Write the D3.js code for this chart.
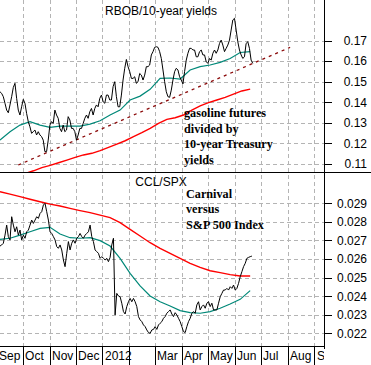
<!DOCTYPE html>
<html>
<head>
<meta charset="utf-8">
<script src="https://cdn.jsdelivr.net/npm/d3@7"></script>
<style>
  body { margin: 0; background: #fff; }
  svg { display: block; }
  .tick text { font-family: "Liberation Sans", Arial, sans-serif; font-size: 12px; fill: #000; }
  .note { font-family: "Liberation Serif", "Times New Roman", serif; font-weight: bold; font-size: 12.2px; fill: #000; }
  .title { font-family: "Liberation Sans", Arial, sans-serif; font-size: 12px; fill: #000; }
</style>
</head>
<body>
<div id="chart"></div>
<script>
// RBOB / 10-year yield ratio, evenly spaced Sep 5 2011 -> Jun 22 2012
const rbobRatio = [
  0.1451, 0.1443, 0.1427, 0.1395, 0.1362, 0.1349, 0.1387, 0.1427, 0.1472, 0.1492,
  0.1419, 0.1362, 0.1338, 0.1378, 0.1414, 0.1395, 0.1346, 0.1306, 0.1281, 0.1249,
  0.1257, 0.1265, 0.1241, 0.1257, 0.1241, 0.1233, 0.1216, 0.1160, 0.1160, 0.1216,
  0.1289, 0.1306, 0.1297, 0.1362, 0.1338, 0.1322, 0.1273, 0.1257, 0.1289, 0.1257,
  0.1265, 0.1330, 0.1314, 0.1273, 0.1273, 0.1257, 0.1216, 0.1241, 0.1273, 0.1273,
  0.1297, 0.1322, 0.1338, 0.1322, 0.1354, 0.1370, 0.1338, 0.1370, 0.1387, 0.1378,
  0.1419, 0.1435, 0.1403, 0.1395, 0.1435, 0.1435, 0.1411, 0.1411, 0.1476, 0.1500,
  0.1427, 0.1378, 0.1378, 0.1435, 0.1508, 0.1565, 0.1608, 0.1573, 0.1549, 0.1516,
  0.1516, 0.1524, 0.1492, 0.1500, 0.1540, 0.1532, 0.1508, 0.1532, 0.1573, 0.1573,
  0.1581, 0.1630, 0.1646, 0.1667, 0.1670, 0.1667, 0.1646, 0.1613, 0.1557, 0.1500,
  0.1451, 0.1427, 0.1424, 0.1459, 0.1508, 0.1549, 0.1565, 0.1557, 0.1524, 0.1508,
  0.1489, 0.1549, 0.1605, 0.1638, 0.1662, 0.1662, 0.1654, 0.1654, 0.1621, 0.1621,
  0.1646, 0.1654, 0.1630, 0.1630, 0.1597, 0.1589, 0.1613, 0.1605, 0.1638, 0.1654,
  0.1638, 0.1654, 0.1686, 0.1702, 0.1678, 0.1646, 0.1662, 0.1678, 0.1702, 0.1751,
  0.1800, 0.1808, 0.1751, 0.1694, 0.1654, 0.1630, 0.1613, 0.1621, 0.1686, 0.1694,
  0.1662, 0.1605, 0.1589
]
// 50-day average (green), Sep 5 2011 -> Jun 19 2012
const rbobMA50 = [
  0.1216, 0.1257, 0.1289, 0.1306, 0.1289, 0.1278, 0.1284, 0.1284, 0.1284, 0.1294,
  0.1310, 0.1338, 0.1362, 0.1411, 0.1430, 0.1463, 0.1516, 0.1518, 0.1513, 0.1557,
  0.1573, 0.1581, 0.1594, 0.1613, 0.1642, 0.1646
]
// 200-day average (red), Oct 4 2011 -> Jun 19 2012
const rbobMA200 = [
  0.1054, 0.1067, 0.1082, 0.1093, 0.1106, 0.1119, 0.1132, 0.1144, 0.1152, 0.1165,
  0.1181, 0.1197, 0.1213, 0.1233, 0.1252, 0.1273, 0.1297, 0.1317, 0.1325, 0.1338,
  0.1362, 0.1382, 0.1398, 0.1411, 0.1424, 0.1440, 0.1455, 0.1464
]
// hand drawn trend line (dashed)
const rbobTrendDates = ["2011-09-26", "2012-08-04"]
const rbobTrendValues = [0.1095, 0.1667]

// CCL / SPX ratio, Sep 5 2011 -> Jun 21 2012
const cclRatio = [
  0.02670, 0.02676, 0.02685, 0.02729, 0.02783, 0.02721, 0.02703, 0.02828, 0.02783, 0.02747,
  0.02774, 0.02729, 0.02756, 0.02703, 0.02729, 0.02712, 0.02747, 0.02756, 0.02783, 0.02810,
  0.02792, 0.02810, 0.02828, 0.02819, 0.02846, 0.02855, 0.02891, 0.02900, 0.02855, 0.02810,
  0.02747, 0.02738, 0.02721, 0.02703, 0.02667, 0.02658, 0.02676, 0.02649, 0.02595, 0.02559,
  0.02631, 0.02694, 0.02649, 0.02685, 0.02703, 0.02685, 0.02712, 0.02721, 0.02738, 0.02721,
  0.02712, 0.02729, 0.02738, 0.02747, 0.02783, 0.02721, 0.02694, 0.02649, 0.02640, 0.02631,
  0.02604, 0.02613, 0.02604, 0.02595, 0.02604, 0.02586, 0.02609, 0.02676, 0.02712, 0.02299,
  0.02415, 0.02401, 0.02397, 0.02362, 0.02317, 0.02304, 0.02344, 0.02370, 0.02388, 0.02370,
  0.02388, 0.02370, 0.02344, 0.02290, 0.02272, 0.02263, 0.02245, 0.02236, 0.02218, 0.02204,
  0.02200, 0.02218, 0.02221, 0.02236, 0.02221, 0.02245, 0.02254, 0.02263, 0.02281, 0.02290,
  0.02308, 0.02317, 0.02326, 0.02304, 0.02290, 0.02311, 0.02299, 0.02281, 0.02263, 0.02236,
  0.02209, 0.02204, 0.02236, 0.02263, 0.02281, 0.02308, 0.02317, 0.02308, 0.02353, 0.02370,
  0.02326, 0.02344, 0.02353, 0.02335, 0.02362, 0.02370, 0.02344, 0.02362, 0.02326, 0.02326,
  0.02326, 0.02362, 0.02397, 0.02415, 0.02433, 0.02433, 0.02442, 0.02433, 0.02451, 0.02442,
  0.02460, 0.02433, 0.02442, 0.02469, 0.02505, 0.02532, 0.02559, 0.02577, 0.02604, 0.02609,
  0.02613, 0.02616
]
const cclMA50 = [
  0.02706, 0.02712, 0.02729, 0.02747, 0.02765, 0.02771, 0.02735, 0.02715, 0.02712, 0.02715,
  0.02699, 0.02670, 0.02604, 0.02523, 0.02455, 0.02401, 0.02370, 0.02347, 0.02322, 0.02311,
  0.02308, 0.02317, 0.02335, 0.02358, 0.02383, 0.02430
]
const cclMA200 = [
  0.02963, 0.02950, 0.02936, 0.02922, 0.02909, 0.02896, 0.02886, 0.02873, 0.02861, 0.02850,
  0.02837, 0.02823, 0.02796, 0.02760, 0.02724, 0.02688, 0.02658, 0.02631, 0.02604, 0.02577,
  0.02555, 0.02537, 0.02527, 0.02516, 0.02509, 0.02509
]

const topTicks = [0.11, 0.12, 0.13, 0.14, 0.15, 0.16, 0.17]
const botTicks = [0.022, 0.023, 0.024, 0.025, 0.026, 0.027, 0.028, 0.029]
const monthLabels = ["Sep", "Oct", "Nov", "Dec", "2012", "", "Mar", "Apr", "May", "Jun", "Jul", "Aug", "Sep"]

const width = 371, height = 365
const plotW = 324, split = 172, plotB = 346

const x = d3.scaleTime()
  .domain([new Date(2011, 8, 5), new Date(2012, 8, 12)])
  .range([0, plotW])
const yTop = d3.scaleLinear().domain([0.10611, 0.1897]).range([split, 0])
const yBot = d3.scaleLinear().domain([0.021316, 0.03069]).range([plotB, split])

const day = s => new Date(s + "T00:00:00")

// spread values evenly in time between two dates
function spread(values, from, to) {
  const t = d3.scaleLinear().domain([0, values.length - 1]).range([+day(from), +day(to)])
  return values.map((v, i) => ({ date: new Date(t(i)), value: v }))
}

const svg = d3.select('#chart').append('svg')
  .attr('width', width)
  .attr('height', height)

svg.append('rect').attr('width', width).attr('height', height).attr('fill', '#fff')

const defs = svg.append('defs')
defs.append('clipPath').attr('id', 'clipTop')
  .append('rect').attr('x', 0).attr('y', 0).attr('width', plotW).attr('height', split)
defs.append('clipPath').attr('id', 'clipBot')
  .append('rect').attr('x', 0).attr('y', split).attr('width', plotW).attr('height', plotB - split)
defs.append('clipPath').attr('id', 'clipAxisLocal')
  .append('rect').attr('x', -10).attr('y', 0).attr('width', plotW + 10).attr('height', 30)

const months = d3.timeMonth.range(new Date(2011, 8, 1), new Date(2012, 9, 1))

// grid
const grid = svg.append('g')
  .attr('stroke', '#b4b4b4')
  .attr('stroke-dasharray', '4,3')
  .attr('shape-rendering', 'crispEdges')
grid.selectAll('.vg').data(months.filter(d => x(d) > 0 && x(d) < plotW)).join('line')
  .attr('x1', d => Math.round(x(d)) + 0.5).attr('x2', d => Math.round(x(d)) + 0.5)
  .attr('y1', 0).attr('y2', plotB)
grid.selectAll('.hgt').data(topTicks).join('line')
  .attr('x1', 0).attr('x2', plotW)
  .attr('y1', d => Math.round(yTop(d)) + 0.5).attr('y2', d => Math.round(yTop(d)) + 0.5)
grid.selectAll('.hgb').data(botTicks).join('line')
  .attr('x1', 0).attr('x2', plotW)
  .attr('y1', d => Math.round(yBot(d)) + 0.5).attr('y2', d => Math.round(yBot(d)) + 0.5)

// lines
const lineTop = d3.line().x(d => x(d.date)).y(d => yTop(d.value))
const lineBot = d3.line().x(d => x(d.date)).y(d => yBot(d.value))

const gTop = svg.append('g').attr('clip-path', 'url(#clipTop)').attr('fill', 'none')
gTop.append('path').datum(spread(rbobMA200, "2011-10-04", "2012-06-19"))
  .attr('d', lineTop).attr('stroke', '#ff0000').attr('stroke-width', 1.4)
gTop.append('path')
  .datum(rbobTrendDates.map((d, i) => ({ date: day(d), value: rbobTrendValues[i] })))
  .attr('d', lineTop).attr('stroke', '#8b0a0a').attr('stroke-width', 1.3)
  .attr('stroke-dasharray', '3,4')
gTop.append('path').datum(spread(rbobMA50, "2011-09-05", "2012-06-19"))
  .attr('d', lineTop).attr('stroke', '#008878').attr('stroke-width', 1.2)
gTop.append('path').datum(spread(rbobRatio, "2011-09-05", "2012-06-22"))
  .attr('d', lineTop).attr('stroke', '#000').attr('stroke-width', 1)

const gBot = svg.append('g').attr('clip-path', 'url(#clipBot)').attr('fill', 'none')
gBot.append('path').datum(spread(cclMA200, "2011-09-05", "2012-06-19"))
  .attr('d', lineBot).attr('stroke', '#ff0000').attr('stroke-width', 1.4)
gBot.append('path').datum(spread(cclMA50, "2011-09-05", "2012-06-19"))
  .attr('d', lineBot).attr('stroke', '#008878').attr('stroke-width', 1.2)
gBot.append('path').datum(spread(cclRatio, "2011-09-05", "2012-06-21"))
  .attr('d', lineBot).attr('stroke', '#000').attr('stroke-width', 1)

// frame lines
svg.append('line').attr('x1', 0).attr('x2', width).attr('y1', split + 0.5).attr('y2', split + 0.5)
  .attr('stroke', '#000')
svg.append('line').attr('x1', plotW + 0.5).attr('x2', plotW + 0.5).attr('y1', 0).attr('y2', plotB + 3)
  .attr('stroke', '#000')

// right axes
function rightAxis(scale, ticks, minor) {
  const g = svg.append('g').attr('transform', `translate(${plotW},0)`)
  g.call(d3.axisRight(scale).tickValues(minor).tickSize(4).tickFormat(''))
  g.call(d3.axisRight(scale).tickValues(ticks).tickSize(8).tickFormat(d3.format('')))
  g.selectAll('.domain').remove()
  g.selectAll('.tick line').attr('stroke', '#000').attr('shape-rendering', 'crispEdges')
  g.selectAll('.tick text').attr('text-anchor', 'end').attr('x', 43)
}
const topMinor = d3.range(21, 38).map(i => i * 0.005)
const botMinor = d3.range(43, 62).map(i => i * 0.0005)
rightAxis(yTop, topTicks, topMinor)
rightAxis(yBot, botTicks, botMinor)

// bottom axis
const gx = svg.append('g').attr('transform', `translate(0,${plotB})`)
const xAxis = d3.axisBottom(x).tickValues(months.slice(0, 13)).tickSize(19)
  .tickFormat((d, i) => monthLabels[i])
const gxa = gx.append('g').attr('clip-path', 'url(#clipAxisLocal)').call(xAxis)
gxa.select('.domain').remove()
gxa.selectAll('.tick line').attr('stroke', '#000').attr('shape-rendering', 'crispEdges')
gxa.selectAll('.tick text').attr('text-anchor', 'start').attr('x', 2).attr('y', 5).attr('dy', '0.71em')
gx.append('line').attr('x1', 0).attr('x2', plotW).attr('y1', 0.5).attr('y2', 0.5).attr('stroke', '#000')

// titles and notes
svg.append('text').attr('class', 'title').attr('x', 161).attr('y', 15).attr('text-anchor', 'middle')
  .text('RBOB/10-year yields')
svg.append('text').attr('class', 'title').attr('x', 161).attr('y', 186).attr('text-anchor', 'middle')
  .text('CCL/SPX')

const noteTop = ["gasoline futures", "divided by", "10-year Treasury", "yields"]
const noteBot = ["Carnival", "versus", "S&P 500 Index"]
svg.selectAll('.nt').data(noteTop).join('text').attr('class', 'note')
  .attr('x', 184).attr('y', (d, i) => 117 + i * 15.5).text(d => d)
svg.selectAll('.nb').data(noteBot).join('text').attr('class', 'note')
  .attr('x', 186).attr('y', (d, i) => 197.5 + i * 15.5).text(d => d)
</script>
</body>
</html>
